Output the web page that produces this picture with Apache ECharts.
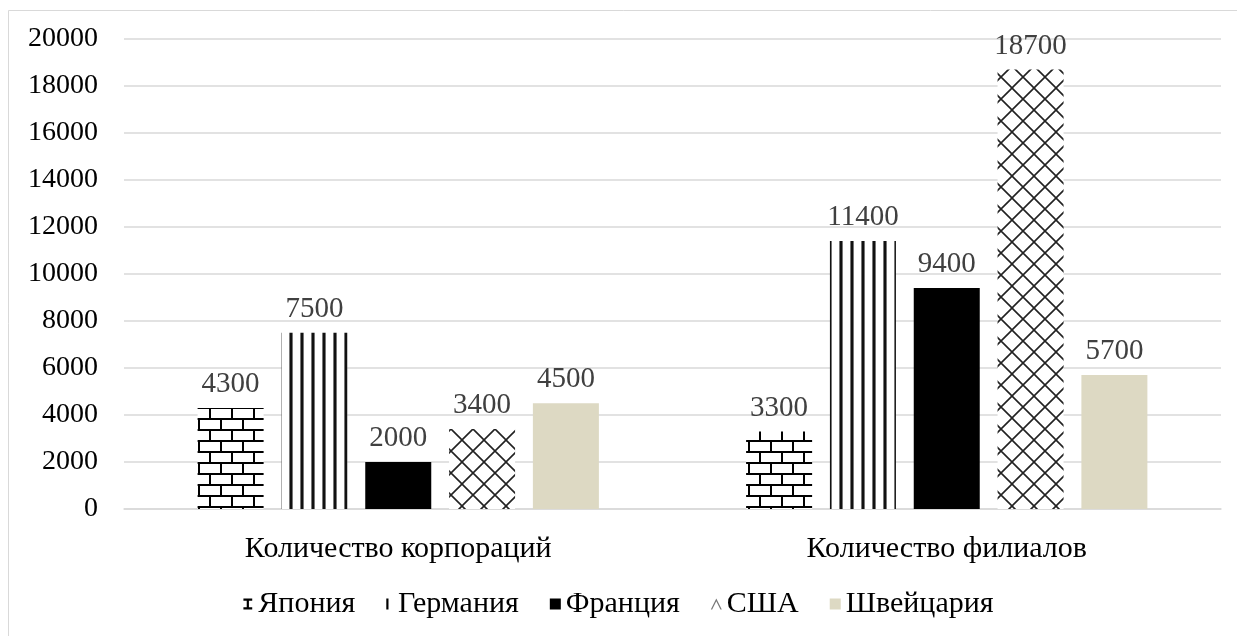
<!DOCTYPE html>
<html>
<head>
<meta charset="utf-8">
<script src="https://cdn.jsdelivr.net/npm/echarts@6/dist/echarts.min.js"></script>
<style>
  html, body { margin: 0; padding: 0; background: #fff; }
  #chart { width: 1237px; height: 636px; }
</style>
</head>
<body>
<div id="chart"></div>
<script>
// Categories and values per country
const categories = ['Количество корпораций', 'Количество филиалов'];
const countries = ['Япония', 'Германия', 'Франция', 'США', 'Швейцария'];
const japan = [4300, 3300];
const germany = [7500, 11400];
const france = [2000, 9400];
const usa = [3400, 18700];
const switzerland = [4500, 5700];
const yTicks = [0, 2000, 4000, 6000, 8000, 10000, 12000, 14000, 16000, 18000, 20000];

const FONT = 'Liberation Serif';

function tile(w, h, draw) {
  const c = document.createElement('canvas');
  c.width = w; c.height = h;
  const ctx = c.getContext('2d');
  ctx.fillStyle = '#fff';
  ctx.fillRect(0, 0, w, h);
  draw(ctx);
  return c;
}

// Brick wall fill
const brick = tile(22, 22, ctx => {
  ctx.fillStyle = '#000';
  ctx.fillRect(0, 0, 22, 2);
  ctx.fillRect(0, 11, 22, 2);
  ctx.fillRect(0, 2, 2, 9);
  ctx.fillRect(11, 13, 2, 9);
});

// Vertical stripe fill
const stripes = tile(11, 4, ctx => {
  ctx.fillStyle = '#777';
  ctx.fillRect(3, 0, 1, 4);
  ctx.fillRect(6, 0, 1, 4);
  ctx.fillStyle = '#111';
  ctx.fillRect(4, 0, 2, 4);
});

// Diagonal lattice fill
const lattice = tile(22, 22, ctx => {
  ctx.strokeStyle = '#222';
  ctx.lineWidth = 1.6;
  ctx.beginPath();
  ctx.moveTo(-1, -1); ctx.lineTo(23, 23);
  ctx.moveTo(23, -1); ctx.lineTo(-1, 23);
  ctx.stroke();
});

const fills = [
  { image: brick, repeat: 'repeat' },
  { image: stripes, repeat: 'repeat' },
  '#000000',
  { image: lattice, repeat: 'repeat' },
  '#ddd9c3'
];
const seriesData = [japan, germany, france, usa, switzerland];

// Small glyph-like legend markers
const legendIcons = [
  'path://M0,0 L8,0 L8,2 L5,2 L5,8 L8,8 L8,10 L0,10 L0,8 L3,8 L3,2 L0,2 Z',
  'path://M0,0 L2,0 L2,10 L0,10 Z',
  'rect',
  'path://M0,8 L4,0 L8,8 L7,8 L4,2 L1,8 Z',
  'rect'
];
const legendColors = ['#000', '#000', '#000', '#777', '#ddd9c3'];

const chart = echarts.init(document.getElementById('chart'), null, { renderer: 'canvas' });

chart.setOption({
  animation: false,
  backgroundColor: '#fff',
  graphic: [{
    type: 'rect',
    shape: { x: 8.5, y: 10.5, width: 1240, height: 640 },
    style: { fill: 'none', stroke: '#d9d9d9', lineWidth: 1 },
    silent: true
  }],
  grid: { left: 124, right: 16, top: 39, height: 470, containLabel: false },
  legend: {
    bottom: 12,
    left: 'center',
    itemWidth: 11,
    itemHeight: 11,
    itemGap: 31,
    textStyle: { fontFamily: FONT, fontSize: 30, color: '#000' },
    data: countries.map((name, i) => ({
      name,
      icon: legendIcons[i],
      itemStyle: { color: legendColors[i] }
    }))
  },
  xAxis: {
    type: 'category',
    data: categories,
    axisTick: { show: false },
    axisLine: { lineStyle: { color: '#d9d9d9', width: 1.5 } },
    axisLabel: { fontFamily: FONT, fontSize: 30, color: '#000', margin: 25 }
  },
  yAxis: {
    type: 'value',
    min: yTicks[0],
    max: yTicks[yTicks.length - 1],
    interval: yTicks[1] - yTicks[0],
    axisLine: { show: false },
    axisTick: { show: false },
    splitLine: { lineStyle: { color: '#d9d9d9', width: 1.5 } },
    axisLabel: {
      fontFamily: FONT, fontSize: 28, color: '#000', margin: 26,
      formatter: v => String(v)
    }
  },
  series: countries.map((name, i) => ({
    name,
    type: 'bar',
    data: seriesData[i],
    barWidth: 66,
    barGap: '27%',
    itemStyle: { color: fills[i] },
    label: {
      show: true,
      position: 'top',
      distance: 9,
      fontFamily: FONT,
      fontSize: 29,
      color: '#404040'
    }
  }))
});
</script>
</body>
</html>
